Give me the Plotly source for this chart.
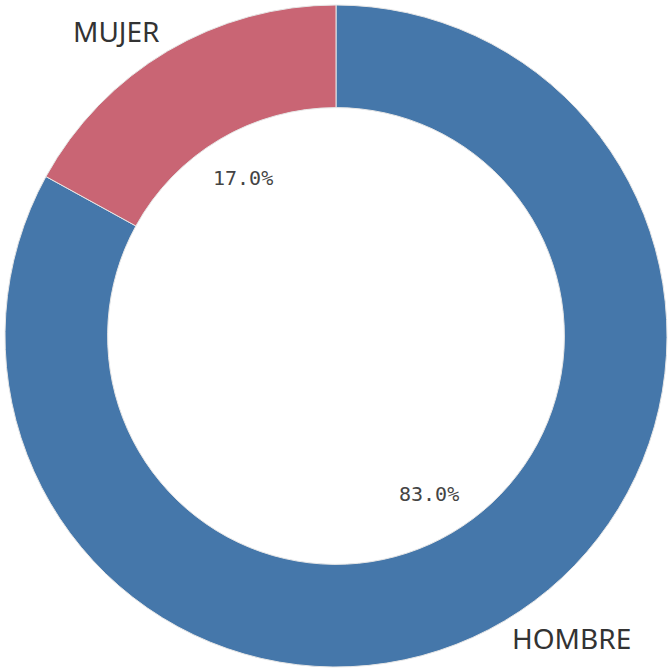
import math
import plotly.graph_objects as go

labels = ["HOMBRE", "MUJER"]
values = [83.0, 17.0]
colors = ["#4577aa", "#c96574"]

W = H = 668
ml, mr, mt, mb = 5, 1, 5, 1
pw = W - ml - mr
ph = H - mt - mb
R = min(pw, ph) / 2.0  # outer radius in px

fig = go.Figure(go.Pie(
    labels=labels, values=values, hole=0.69, sort=False,
    direction="clockwise", rotation=0,
    marker=dict(colors=colors, line=dict(color="#e6e6e6", width=1)),
    textinfo="none", hoverinfo="label+percent", showlegend=False,
))

total = sum(values)
annotations = []
start = 0.0
for lab, v in zip(labels, values):
    frac = v / total
    mid = start + frac / 2.0
    ang = mid * 2 * math.pi  # clockwise from top
    dx, dy = math.sin(ang), math.cos(ang)
    # percentage inside hole
    r_in = 0.553 * R
    annotations.append(dict(
        x=0.5 + dx * r_in / pw, y=0.5 + dy * r_in / ph, xref="paper", yref="paper",
        text=f"{v / total * 100:.1f}%", showarrow=False,
        font=dict(family="DejaVu Sans Mono", size=20, color="#444444"),
        xanchor="center", yanchor="middle"))
    r_out = 1.035 * R
    annotations.append(dict(
        x=0.5 + dx * r_out / pw, y=0.5 + dy * r_out / ph, xref="paper", yref="paper",
        text=lab, showarrow=False,
        font=dict(family="Noto Sans", size=28, color="#333333"),
        xanchor="left" if dx > 0 else "right",
        yanchor="middle", yshift=10 if dy > 0 else -7))
    start += frac

fig.update_layout(
    width=W, height=H, margin=dict(l=ml, r=mr, t=mt, b=mb),
    paper_bgcolor="white", plot_bgcolor="white",
    annotations=annotations,
)
fig.write_html("out.html", config={"displayModeBar": False},
               post_script="document.body.style.margin='0';document.body.style.overflow='hidden';")
